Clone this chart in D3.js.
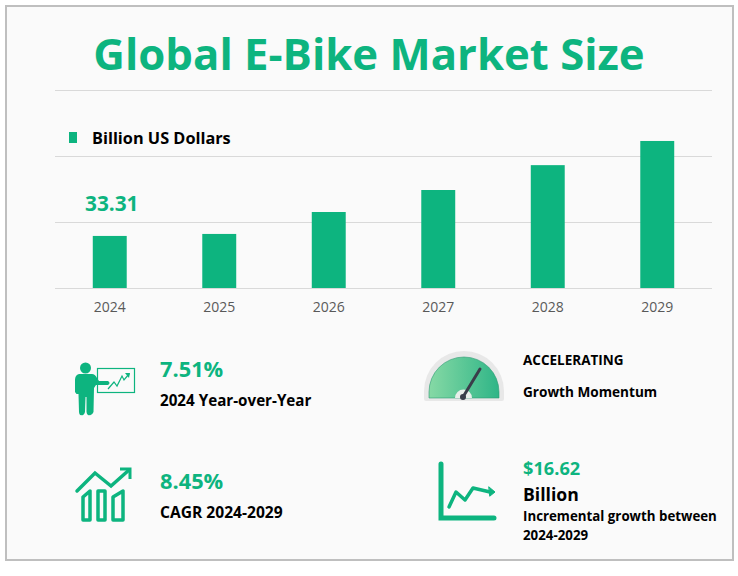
<!DOCTYPE html>
<html>
<head>
<meta charset="utf-8">
<script src="https://cdn.jsdelivr.net/npm/d3@7"></script>
<style>
  html, body { margin: 0; padding: 0; background: #fff; }
  text { font-family: "Open Sans", "Noto Sans", sans-serif; }
</style>
</head>
<body>
<div id="chart"></div>
<script>
var years = ["2024", "2025", "2026", "2027", "2028", "2029"];
var billions = [33.31, 33.66, 37.5, 41.35, 45.7, 49.93];
var gridValues = [24.2, 35.75, 47.3, 58.85];
var shownLabels = ["33.31"];

var green = "#0db47f", dark = "#000", grey = "#595959";

var svg = d3.select("#chart").append("svg")
    .attr("width", 738)
    .attr("height", 576)
    .style("display", "block");

// panel
svg.append("rect")
    .attr("x", 6).attr("y", 6)
    .attr("width", 727).attr("height", 554)
    .attr("fill", "#fafafa")
    .attr("stroke", "#bfbfbf")
    .attr("stroke-width", 2);

function label(x, y, str, size, color) {
  return svg.append("text")
      .attr("x", x).attr("y", y)
      .attr("font-size", size)
      .attr("font-weight", 700)
      .attr("fill", color)
      .text(str);
}

label(369, 70, "Global E-Bike Market Size", 43.7, green)
    .attr("text-anchor", "middle");

// scales
var x = d3.scaleBand()
    .domain(years)
    .range([55, 712])
    .paddingInner(0.69)
    .paddingOuter(0.345);

var y = d3.scaleLinear()
    .domain([24.2, 58.85])
    .range([288, 90]);

// gridlines
svg.append("g").selectAll("line").data(gridValues).enter().append("line")
    .attr("x1", 55).attr("x2", 712)
    .attr("y1", function(d) { return Math.round(y(d)) + 0.5; })
    .attr("y2", function(d) { return Math.round(y(d)) + 0.5; })
    .attr("stroke", "#d9d9d9");

// legend
svg.append("rect")
    .attr("x", 69).attr("y", 132)
    .attr("width", 8).attr("height", 11)
    .attr("fill", green);
label(92, 144, "Billion US Dollars", 16.3, dark);

// bars
svg.append("g").selectAll("rect").data(billions).enter().append("rect")
    .attr("x", function(d, i) { return x(years[i]); })
    .attr("y", function(d) { return y(d); })
    .attr("width", x.bandwidth())
    .attr("height", function(d) { return y(gridValues[0]) - y(d); })
    .attr("fill", green);

label(x("2024") + x.bandwidth() / 2 + 2, 211, shownLabels[0], 20.8, green)
    .attr("text-anchor", "middle");

// x axis
var xAxis = svg.append("g")
    .attr("transform", "translate(0,288)")
    .call(d3.axisBottom(x).tickSize(0).tickPadding(14));
xAxis.select(".domain").remove();
xAxis.selectAll("text")
    .attr("font-size", 14)
    .attr("font-family", "'Open Sans', sans-serif")
    .attr("fill", grey);

// stats
label(160, 377, "7.51%", 21.8, green);
label(160, 406, "2024 Year-over-Year", 15.2, dark);
label(160, 489, "8.45%", 21.8, green);
label(160, 518, "CAGR 2024-2029", 15.6, dark);
label(523, 365, "ACCELERATING", 13.5, dark);
label(523, 397, "Growth Momentum", 13.6, dark);
label(523, 475, "$16.62", 18.2, green);
label(523, 501, "Billion", 17.6, dark);
label(523, 521, "Incremental growth between", 13.3, dark);
label(523, 540, "2024-2029", 13.3, dark);

// presenter icon
var person = svg.append("g");
person.append("circle").attr("cx", 85.5).attr("cy", 368).attr("r", 5.5).attr("fill", green);
person.append("path").attr("fill", green)
    .attr("d", "M79 374 L92 374 Q95 374 97 378 L99 381 L108 381 Q111 383 108 385 L96 385 L94 388 L93.5 412 Q92 416 89 415 Q87 416 86.5 412 L86.5 397 L85.5 397 L85 412 Q84 416 82 415 Q79.5 416 79 412 L78.5 394 L76.5 394 L75 392 L75 380 Q75 375 79 374 Z");
person.append("rect").attr("x", 97.5).attr("y", 368.5)
    .attr("width", 37).attr("height", 24)
    .attr("fill", "none").attr("stroke", green).attr("stroke-width", 1.2);
person.append("path").attr("fill", "none").attr("stroke", green).attr("stroke-width", 1.2)
    .attr("d", "M108 389 L114 382 L117 386 L122 376 L124 380 L129 374");
person.append("path").attr("fill", green).attr("d", "M125 373 L130 373 L129 378 Z");

// growth bars icon
var growth = svg.append("g").attr("fill", "none").attr("stroke", green);
growth.append("path").attr("stroke-width", 3.5).attr("stroke-linecap", "round")
    .attr("d", "M77 491 L95 473 L111 486 L129 470");
growth.append("path").attr("stroke-width", 3).attr("d", "M120 469 L130 469 L130 479");
growth.selectAll(".col")
    .data(["M83 520 L83 497 L90 491 L90 520 Z", "M98 520 L98 491 L105 491 L105 520 Z", "M113 520 L113 497 L123 491 L123 520 Z"])
    .enter().append("path")
    .attr("stroke-width", 3.5).attr("stroke-linejoin", "round")
    .attr("d", function(d) { return d; });

// gauge icon
var defs = svg.append("defs");
var grad = defs.append("linearGradient").attr("id", "gaugeFill");
grad.append("stop").attr("offset", "0%").attr("stop-color", "#86d9a5");
grad.append("stop").attr("offset", "100%").attr("stop-color", "#2fb587");
var gauge = svg.append("g").attr("transform", "translate(464,398)");
gauge.append("path").attr("fill", "#e8e8e8")
    .attr("d", "M-40 -7 A40 40 0 0 1 40 -7 L40 1 Q40 3 38 3 L-38 3 Q-40 3 -40 1 Z");
gauge.append("path").attr("fill", "url(#gaugeFill)").attr("stroke", "#2c9a72").attr("stroke-width", 0.6)
    .attr("d", "M-35 -6 A35 35 0 0 1 35 -6 L35 0 L-35 0 Z");
gauge.append("path").attr("fill", "#e9eeea").attr("d", "M-9 0 A8 8 0 0 1 8 0 Z");
gauge.append("line").attr("x1", -1).attr("y1", -1).attr("x2", 16).attr("y2", -29)
    .attr("stroke", "#3a3d4a").attr("stroke-width", 3).attr("stroke-linecap", "round");
gauge.append("circle").attr("cx", -1).attr("cy", -1).attr("r", 3).attr("fill", "#3a3d4a");

// line chart icon
var trend = svg.append("g").attr("fill", "none").attr("stroke", green).attr("stroke-linecap", "round");
trend.append("path").attr("stroke-width", 5)
    .attr("d", "M441 464 L441 518 L494 518");
trend.append("path").attr("stroke-width", 3.5).attr("stroke-linejoin", "round")
    .attr("d", "M449 507 L456 492 L465 500 L473 488 L490 492");
trend.append("path").attr("fill", green).attr("stroke-width", 1).attr("d", "M489 487 L495 492 L490 496 Z");
</script>
</body>
</html>
